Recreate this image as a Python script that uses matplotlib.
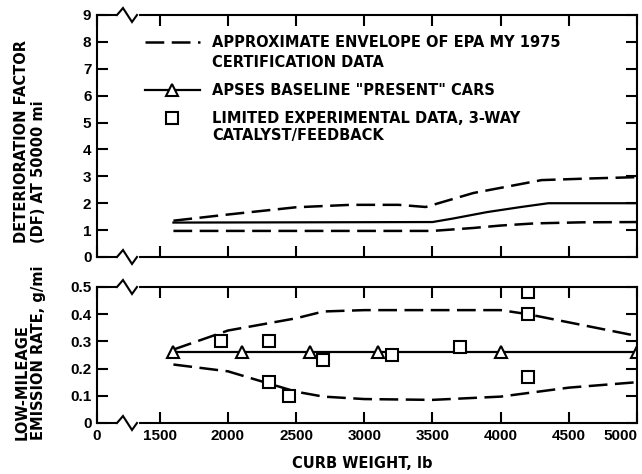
"""Deterioration factor and low-mileage emission rate vs curb weight (two stacked panels)."""

import matplotlib

matplotlib.use("Agg")
import matplotlib.pyplot as plt
import numpy as np
from matplotlib.lines import Line2D

plt.rcParams["font.family"] = ["Liberation Sans", "DejaVu Sans"]
plt.rcParams["font.weight"] = "bold"
WIDE = ["DejaVu Sans"]  # for the legend / axis titles (wide caps, like the original)

# --- top panel: deterioration factor at 50000 mi
df_env_hi_x = [1600, 2000, 2500, 2900, 3250, 3450, 3800, 4050, 4300, 4650, 5000]
df_env_hi_y = [1.35, 1.58, 1.85, 1.94, 1.94, 1.86, 2.38, 2.62, 2.86, 2.92, 2.97]
df_env_lo_x = [1600, 2500, 3500, 3800, 4000, 4250, 4600, 5000]
df_env_lo_y = [0.97, 0.97, 0.97, 1.08, 1.17, 1.25, 1.29, 1.30]
df_base_x = [1600, 3500, 3650, 3900, 4150, 4350, 5000]
df_base_y = [1.28, 1.30, 1.43, 1.67, 1.86, 2.00, 2.00]

# --- bottom panel: low-mileage emission rate, g/mi
em_env_hi_x = [1600, 2000, 2500, 2700, 3000, 3500, 4000, 4200, 4500, 5000]
em_env_hi_y = [0.27, 0.34, 0.385, 0.41, 0.415, 0.415, 0.415, 0.40, 0.37, 0.32]
em_env_lo_x = [1600, 2000, 2500, 2700, 3000, 3500, 4000, 4500, 5000]
em_env_lo_y = [0.215, 0.19, 0.115, 0.097, 0.088, 0.085, 0.097, 0.13, 0.15]
em_base_x = [1600, 2100, 2600, 3100, 4000, 5000]
em_base_y = [0.26, 0.26, 0.26, 0.26, 0.26, 0.26]
em_exp_x = [1950, 2300, 2300, 2450, 2700, 3200, 3700, 4200, 4200, 4200]
em_exp_y = [0.30, 0.30, 0.15, 0.10, 0.23, 0.25, 0.28, 0.48, 0.40, 0.17]

x_ticks = [0, 1500, 2000, 2500, 3000, 3500, 4000, 4500, 5000]
df_ticks = list(range(10))
em_ticks = [0, 0.1, 0.2, 0.3, 0.4, 0.5]
em_tick_labels = ["0", "0.1", "0.2", "0.3", "0.4", "0.5"]

W, H = 642, 474
BREAK = 1500
SQUEEZE = 0.307  # 0..1500 is drawn compressed (broken axis)


def fwd(x):
    x = np.asarray(x, dtype=float)
    return np.where(x < BREAK, BREAK - (BREAK - x) * SQUEEZE, x)


def inv(x):
    x = np.asarray(x, dtype=float)
    return np.where(x < BREAK, BREAK - (BREAK - x) / SQUEEZE, x)


def px_axes(left, top, right, bottom):
    return [left / W, 1 - bottom / H, (right - left) / W, (bottom - top) / H]


DASH = (0, (7.5, 3))
LW = 1.8
MK = dict(ms=9, mfc="white", mec="black", mew=1.5)
TXT = 10.5

fig = plt.figure(figsize=(W / 100, H / 100), dpi=100)
ax1 = fig.add_axes(px_axes(97, 15, 637, 257))
ax2 = fig.add_axes(px_axes(97, 287, 637, 423))

for ax in (ax1, ax2):
    ax.set_xscale("function", functions=(fwd, inv))
    ax.set_xlim(0, 5000)
    ax.set_xticks(x_ticks)
    ax.tick_params(direction="in", top=True, right=True, length=8, width=1.5,
                   labelsize=11, pad=4)
    for s in ax.spines.values():
        s.set_linewidth(1.5)

# top panel
ax1.plot(df_env_hi_x, df_env_hi_y, color="black", lw=LW, linestyle=DASH)
ax1.plot(df_env_lo_x, df_env_lo_y, color="black", lw=LW, linestyle=DASH)
ax1.plot(df_base_x, df_base_y, color="black", lw=1.6)
ax1.set_ylim(0, 9)
ax1.set_yticks(df_ticks)
ax1.tick_params(labelbottom=False)

# legend drawn by hand, as in the original figure
tf = ax1.transAxes
ax1.add_line(Line2D([0.089, 0.191], [0.888, 0.888], color="black", lw=LW,
                    linestyle=DASH, transform=tf))
ax1.add_line(Line2D([0.089, 0.191], [0.69, 0.69], color="black", lw=1.6,
                    transform=tf))
ax1.add_line(Line2D([0.139], [0.690], lw=0, marker="^", transform=tf, **MK))
ax1.add_line(Line2D([0.139], [0.574], lw=0, marker="s", transform=tf, **MK))
legend_lines = [
    ("APPROXIMATE ENVELOPE OF EPA MY 1975", 0.888),
    ("CERTIFICATION DATA", 0.802),
    ("APSES BASELINE \"PRESENT\" CARS", 0.69),
    ("LIMITED EXPERIMENTAL DATA, 3-WAY", 0.574),
    ("CATALYST/FEEDBACK", 0.504),
]
for txt, yy in legend_lines:
    ax1.text(0.213, yy, txt, transform=tf, fontsize=TXT, fontweight="bold",
             family=WIDE, va="center", ha="left")

# bottom panel
ax2.plot(em_env_hi_x, em_env_hi_y, color="black", lw=LW, linestyle=DASH)
ax2.plot(em_env_lo_x, em_env_lo_y, color="black", lw=LW, linestyle=DASH)
ax2.plot(em_base_x, em_base_y, color="black", lw=1.6, marker="^", **MK)
ax2.plot(em_exp_x, em_exp_y, linestyle="none", marker="s", **MK)
ax2.set_ylim(0, 0.5)
ax2.set_yticks(em_ticks)
ax2.set_yticklabels(em_tick_labels)
ax2.set_xticklabels([str(v) for v in x_ticks])
ax2.get_xticklabels()[-1].set_horizontalalignment("right")

for lab in ax2.get_xticklabels() + ax2.get_yticklabels() + ax1.get_yticklabels():
    lab.set_fontweight("bold")

# axis titles, placed by hand (left-aligned, rotated)
fig.text(30 / W, 1 - 243 / H, "DETERIORATION FACTOR\n(DF) AT 50000 mi",
         rotation=90, ha="center", va="bottom", multialignment="left",
         fontsize=TXT, fontweight="bold", family=WIDE, linespacing=1.1)
fig.text(30 / W, 1 - 440 / H, "LOW-MILEAGE\nEMISSION RATE, g/mi",
         rotation=90, ha="center", va="bottom", multialignment="left",
         fontsize=TXT, fontweight="bold", family=WIDE, linespacing=1.1)
fig.text(362 / W, 1 - 463 / H, "CURB WEIGHT, lb", ha="center", va="center",
         fontsize=TXT, fontweight="bold", family=WIDE)


# axis-break zigzags on the horizontal spines
def zigzag(y):
    fx = lambda v: np.asarray(v) / W
    fy = lambda v: 1 - np.asarray(v) / H
    fig.add_artist(Line2D(fx([119, 137]), fy([y, y]), color="white", lw=3,
                          transform=fig.transFigure))
    fig.add_artist(Line2D(fx([117, 123, 132, 137]), fy([y, y - 7, y + 7, y]),
                          color="black", lw=1.5, transform=fig.transFigure,
                          solid_joinstyle="miter"))


for y in (15, 257, 287, 423):
    zigzag(y)

fig.savefig("out.png", dpi=100)
